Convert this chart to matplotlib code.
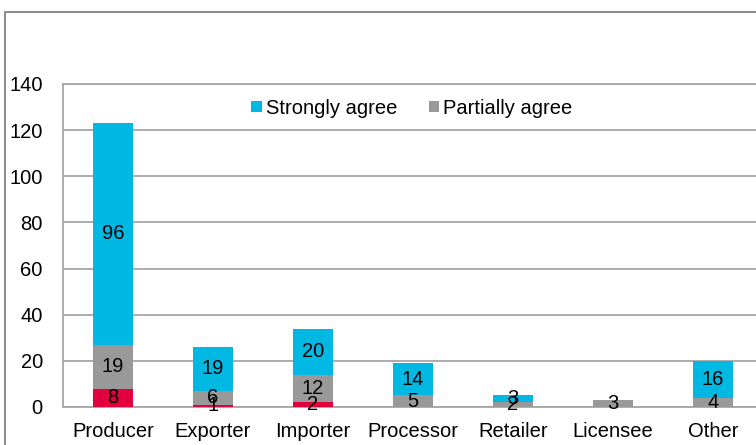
import numpy as np
import matplotlib
matplotlib.use('Agg')
import matplotlib.pyplot as plt
from matplotlib.patches import Rectangle

plt.rcParams['font.family'] = ['Liberation Sans', 'DejaVu Sans']

# Respuestas por tipo de actor
categorias = ['Producer', 'Exporter', 'Importer', 'Processor', 'Retailer', 'Licensee', 'Other']
desacuerdo = [8, 1, 2, 0, 0, 0, 0]
parcial = [19, 6, 12, 5, 2, 3, 4]
fuerte = [96, 19, 20, 14, 3, 0, 16]

col_rojo = '#E2003C'
col_gris = '#999999'
col_cian = '#00B8E2'
col_linea = '#A6A6A6'
fs = 14.5

fig = plt.figure(figsize=(7.56, 4.45), dpi=100)
# marco exterior del grafico
fig.patches.append(Rectangle((5/756, -0.1), 1.2, 1 - 12/445 + 0.1, transform=fig.transFigure,
                             fill=False, edgecolor='#8C8C8C', linewidth=1.5))

ax = fig.add_axes([63/756, 38/445, 700/756, 323/445])
x = np.arange(len(categorias))
ancho = 0.4

b1 = ax.bar(x, desacuerdo, ancho, color=col_rojo, zorder=3)
b2 = ax.bar(x, parcial, ancho, bottom=desacuerdo, color=col_gris, zorder=3, label='Partially agree')
base = np.array(desacuerdo) + np.array(parcial)
b3 = ax.bar(x, fuerte, ancho, bottom=base, color=col_cian, zorder=3, label='Strongly agree')

# etiquetas de valor en el centro de cada segmento
for barras, vals, abajo in [(b1, desacuerdo, np.zeros(len(x))), (b2, parcial, desacuerdo), (b3, fuerte, base)]:
    for i, v in enumerate(vals):
        if v > 0:
            ax.text(x[i], abajo[i] + v / 2, str(v), ha='center', va='center', fontsize=fs, zorder=4)

ax.set_ylim(0, 140)
ax.set_xlim(-0.5, len(categorias) - 0.5)
ax.set_yticks(np.arange(0, 141, 20))
ax.yaxis.grid(True, color=col_linea, linewidth=1.3, zorder=0)
ax.set_xticks(x)
ax.set_xticklabels(categorias)
ax.tick_params(axis='both', length=0, labelsize=fs)
ax.tick_params(axis='y', pad=14.5)
ax.tick_params(axis='x', pad=11)
for s in ['left', 'top', 'bottom', 'right']:
    ax.spines[s].set_color(col_linea)
    ax.spines[s].set_linewidth(1.3)

h, l = ax.get_legend_handles_labels()
ax.legend([h[1], h[0]], [l[1], l[0]], loc='center', bbox_to_anchor=(0.4986, 0.925), ncol=2,
          frameon=False, fontsize=fs, handlelength=0.5, handleheight=0.5, handletextpad=0.2,
          columnspacing=1.6)

fig.savefig('out.png', dpi=100)
